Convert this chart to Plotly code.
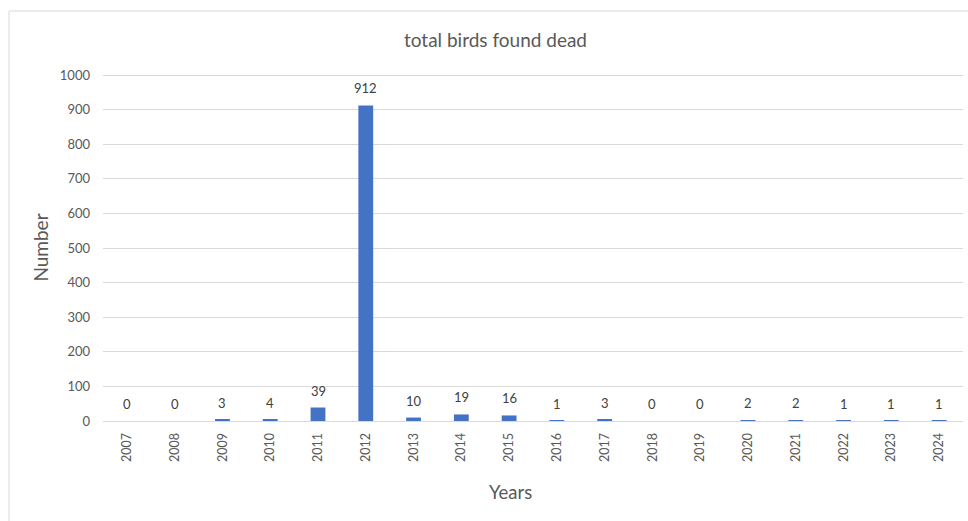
import plotly.graph_objects as go

years = ["2007", "2008", "2009", "2010", "2011", "2012", "2013", "2014", "2015",
         "2016", "2017", "2018", "2019", "2020", "2021", "2022", "2023", "2024"]
deaths = [0, 0, 3, 4, 39, 912, 10, 19, 16, 1, 3, 0, 0, 2, 2, 1, 1, 1]
y_ticks = [0, 100, 200, 300, 400, 500, 600, 700, 800, 900, 1000]

FONT = "Lato, 'Open Sans', sans-serif"
GRAY = "#595959"

fig = go.Figure()
fig.add_trace(go.Bar(
    x=years, y=deaths,
    marker=dict(color="#4472C4", line=dict(width=0)),
    hoverinfo="x+y",
))

annotations = []
for i, v in enumerate(deaths):
    annotations.append(dict(
        x=i, y=v, xref="x", yref="y", text=str(v), showarrow=False,
        yanchor="middle", yshift=17,
        font=dict(family=FONT, size=13, color="#404040"),
    ))
# x-axis title (placed like the original, slightly left of plot centre)
annotations.append(dict(
    text="Years", xref="paper", yref="paper", x=(510 - 103) / 860, y=(421 - 492) / 347,
    xanchor="center", yanchor="middle", showarrow=False,
    font=dict(family=FONT, size=18.5, color=GRAY),
))

fig.update_layout(
    width=968, height=521,
    margin=dict(l=103, r=5, t=74, b=100),
    paper_bgcolor="white", plot_bgcolor="white",
    bargap=0.69,
    showlegend=False,
    font=dict(family=FONT, size=12, color=GRAY),
    title=dict(text="total birds found dead", x=(495.5 - 103) / 860, xanchor="center",
               xref="paper", y=1 - 40 / 521, yanchor="middle",
               font=dict(family=FONT, size=19, color=GRAY)),
    annotations=annotations,
    shapes=[dict(type="rect", xref="paper", yref="paper",
                 x0=(9 - 103) / 860, x1=1.2, y0=-0.5, y1=(421 - 11) / 347,
                 line=dict(color="#D9D9D9", width=1), layer="below")],
)
fig.update_xaxes(
    type="category", range=[-0.5, len(years) - 0.5],
    tickangle=-90, showgrid=False, showline=True, linecolor="#D9D9D9", linewidth=1,
    ticks="", ticklabelstandoff=6,
    tickfont=dict(family=FONT, size=12.5, color=GRAY),
)
fig.update_yaxes(
    range=[0, 1003], tickvals=y_ticks, showgrid=True, gridcolor="#D9D9D9", gridwidth=1,
    zeroline=False, showline=False, ticks="", ticklabelstandoff=12,
    tickfont=dict(family=FONT, size=13, color=GRAY),
    title=dict(text="Number", font=dict(family=FONT, size=19, color=GRAY), standoff=6),
)

fig.write_html("out.html")
